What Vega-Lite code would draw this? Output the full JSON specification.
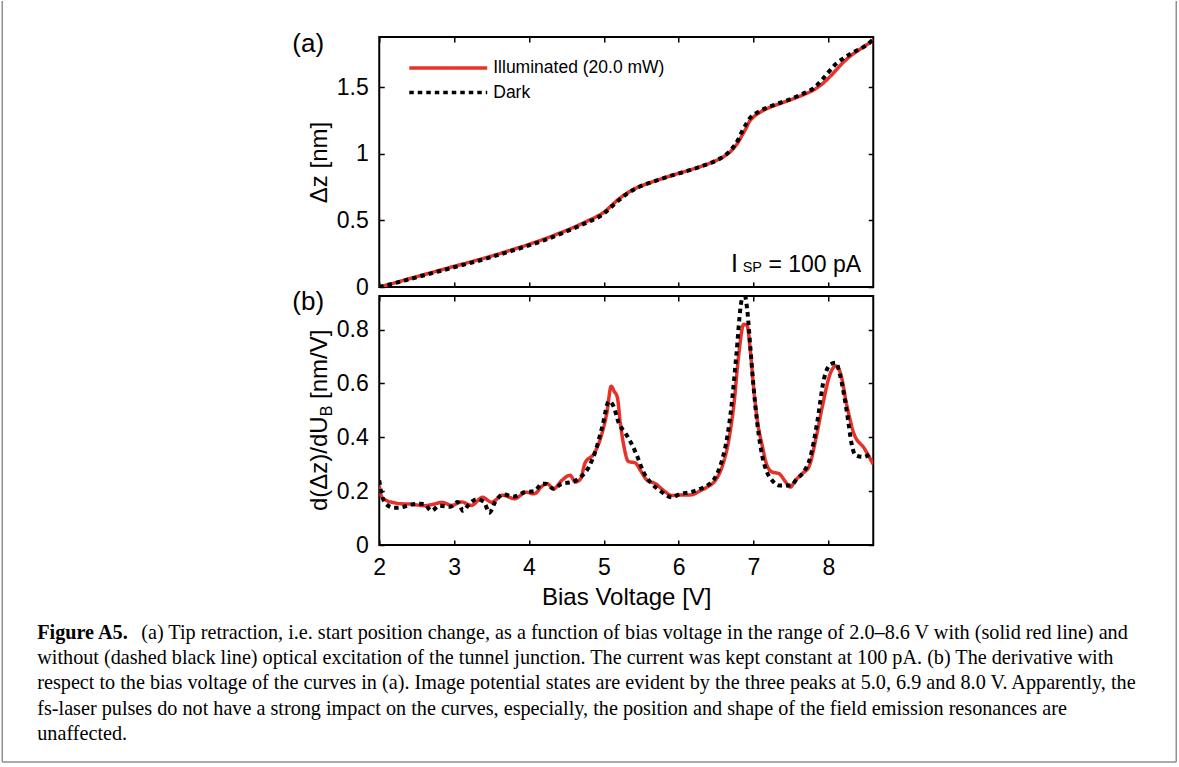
{
  "$schema": "https://vega.github.io/schema/vega-lite/v6.json",
  "padding": {"left": 1.25, "top": 0, "right": 1, "bottom": 1},
  "background": "white",
  "config": {
    "font": "Liberation Sans",
    "view": {"stroke": "black", "strokeWidth": 2},
    "axis": {
      "domain": false, "grid": false, "ticks": true, "tickSize": -5, "tickWidth": 1.5, "tickColor": "black",
      "labelFont": "Liberation Sans", "labelFontSize": 23, "labelColor": "black", "labelPadding": 16,
      "titleFont": "Liberation Sans", "titleFontSize": 24, "titleFontWeight": "normal", "titleColor": "black"
    },
    "legend": {
      "symbolType": "M-5,0H5", "symbolSize": 243, "symbolStrokeWidth": 3.5,
      "labelOffset": 35, "labelFontSize": 17.5, "labelFont": "Liberation Sans", "labelColor": "black", "labelLimit": 0,
      "rowPadding": 5.5, "padding": 0
    }
  },
  "datasets": {
    "za": [
      {"voltage": 2.0, "dz": 0.0, "series": "Illuminated (20.0 mW)"},
      {"voltage": 2.2, "dz": 0.03, "series": "Illuminated (20.0 mW)"},
      {"voltage": 2.4, "dz": 0.062, "series": "Illuminated (20.0 mW)"},
      {"voltage": 2.6, "dz": 0.093, "series": "Illuminated (20.0 mW)"},
      {"voltage": 2.8, "dz": 0.124, "series": "Illuminated (20.0 mW)"},
      {"voltage": 3.0, "dz": 0.155, "series": "Illuminated (20.0 mW)"},
      {"voltage": 3.2, "dz": 0.185, "series": "Illuminated (20.0 mW)"},
      {"voltage": 3.4, "dz": 0.216, "series": "Illuminated (20.0 mW)"},
      {"voltage": 3.6, "dz": 0.249, "series": "Illuminated (20.0 mW)"},
      {"voltage": 3.8, "dz": 0.284, "series": "Illuminated (20.0 mW)"},
      {"voltage": 4.0, "dz": 0.32, "series": "Illuminated (20.0 mW)"},
      {"voltage": 4.2, "dz": 0.359, "series": "Illuminated (20.0 mW)"},
      {"voltage": 4.4, "dz": 0.402, "series": "Illuminated (20.0 mW)"},
      {"voltage": 4.6, "dz": 0.448, "series": "Illuminated (20.0 mW)"},
      {"voltage": 4.8, "dz": 0.5, "series": "Illuminated (20.0 mW)"},
      {"voltage": 4.9, "dz": 0.527, "series": "Illuminated (20.0 mW)"},
      {"voltage": 5.0, "dz": 0.56, "series": "Illuminated (20.0 mW)"},
      {"voltage": 5.1, "dz": 0.61, "series": "Illuminated (20.0 mW)"},
      {"voltage": 5.2, "dz": 0.66, "series": "Illuminated (20.0 mW)"},
      {"voltage": 5.3, "dz": 0.7, "series": "Illuminated (20.0 mW)"},
      {"voltage": 5.4, "dz": 0.733, "series": "Illuminated (20.0 mW)"},
      {"voltage": 5.5, "dz": 0.758, "series": "Illuminated (20.0 mW)"},
      {"voltage": 5.6, "dz": 0.779, "series": "Illuminated (20.0 mW)"},
      {"voltage": 5.7, "dz": 0.798, "series": "Illuminated (20.0 mW)"},
      {"voltage": 5.9, "dz": 0.835, "series": "Illuminated (20.0 mW)"},
      {"voltage": 6.1, "dz": 0.869, "series": "Illuminated (20.0 mW)"},
      {"voltage": 6.3, "dz": 0.905, "series": "Illuminated (20.0 mW)"},
      {"voltage": 6.5, "dz": 0.948, "series": "Illuminated (20.0 mW)"},
      {"voltage": 6.6, "dz": 0.977, "series": "Illuminated (20.0 mW)"},
      {"voltage": 6.7, "dz": 1.02, "series": "Illuminated (20.0 mW)"},
      {"voltage": 6.8, "dz": 1.09, "series": "Illuminated (20.0 mW)"},
      {"voltage": 6.85, "dz": 1.14, "series": "Illuminated (20.0 mW)"},
      {"voltage": 6.9, "dz": 1.19, "series": "Illuminated (20.0 mW)"},
      {"voltage": 6.95, "dz": 1.245, "series": "Illuminated (20.0 mW)"},
      {"voltage": 7.0, "dz": 1.275, "series": "Illuminated (20.0 mW)"},
      {"voltage": 7.1, "dz": 1.315, "series": "Illuminated (20.0 mW)"},
      {"voltage": 7.2, "dz": 1.343, "series": "Illuminated (20.0 mW)"},
      {"voltage": 7.3, "dz": 1.365, "series": "Illuminated (20.0 mW)"},
      {"voltage": 7.4, "dz": 1.385, "series": "Illuminated (20.0 mW)"},
      {"voltage": 7.5, "dz": 1.405, "series": "Illuminated (20.0 mW)"},
      {"voltage": 7.6, "dz": 1.427, "series": "Illuminated (20.0 mW)"},
      {"voltage": 7.7, "dz": 1.45, "series": "Illuminated (20.0 mW)"},
      {"voltage": 7.8, "dz": 1.477, "series": "Illuminated (20.0 mW)"},
      {"voltage": 7.9, "dz": 1.515, "series": "Illuminated (20.0 mW)"},
      {"voltage": 8.0, "dz": 1.565, "series": "Illuminated (20.0 mW)"},
      {"voltage": 8.1, "dz": 1.625, "series": "Illuminated (20.0 mW)"},
      {"voltage": 8.2, "dz": 1.685, "series": "Illuminated (20.0 mW)"},
      {"voltage": 8.3, "dz": 1.735, "series": "Illuminated (20.0 mW)"},
      {"voltage": 8.4, "dz": 1.775, "series": "Illuminated (20.0 mW)"},
      {"voltage": 8.5, "dz": 1.812, "series": "Illuminated (20.0 mW)"},
      {"voltage": 8.6, "dz": 1.852, "series": "Illuminated (20.0 mW)"},
      {"voltage": 2.0, "dz": 0.0, "series": "Dark"},
      {"voltage": 2.2, "dz": 0.028, "series": "Dark"},
      {"voltage": 2.4, "dz": 0.058, "series": "Dark"},
      {"voltage": 2.6, "dz": 0.088, "series": "Dark"},
      {"voltage": 2.8, "dz": 0.118, "series": "Dark"},
      {"voltage": 3.0, "dz": 0.148, "series": "Dark"},
      {"voltage": 3.2, "dz": 0.178, "series": "Dark"},
      {"voltage": 3.4, "dz": 0.208, "series": "Dark"},
      {"voltage": 3.6, "dz": 0.242, "series": "Dark"},
      {"voltage": 3.8, "dz": 0.276, "series": "Dark"},
      {"voltage": 4.0, "dz": 0.312, "series": "Dark"},
      {"voltage": 4.2, "dz": 0.35, "series": "Dark"},
      {"voltage": 4.4, "dz": 0.393, "series": "Dark"},
      {"voltage": 4.6, "dz": 0.44, "series": "Dark"},
      {"voltage": 4.8, "dz": 0.49, "series": "Dark"},
      {"voltage": 4.9, "dz": 0.515, "series": "Dark"},
      {"voltage": 5.0, "dz": 0.55, "series": "Dark"},
      {"voltage": 5.1, "dz": 0.6, "series": "Dark"},
      {"voltage": 5.2, "dz": 0.65, "series": "Dark"},
      {"voltage": 5.3, "dz": 0.695, "series": "Dark"},
      {"voltage": 5.4, "dz": 0.73, "series": "Dark"},
      {"voltage": 5.5, "dz": 0.758, "series": "Dark"},
      {"voltage": 5.6, "dz": 0.779, "series": "Dark"},
      {"voltage": 5.7, "dz": 0.798, "series": "Dark"},
      {"voltage": 5.9, "dz": 0.835, "series": "Dark"},
      {"voltage": 6.1, "dz": 0.868, "series": "Dark"},
      {"voltage": 6.3, "dz": 0.904, "series": "Dark"},
      {"voltage": 6.5, "dz": 0.948, "series": "Dark"},
      {"voltage": 6.6, "dz": 0.98, "series": "Dark"},
      {"voltage": 6.7, "dz": 1.03, "series": "Dark"},
      {"voltage": 6.8, "dz": 1.11, "series": "Dark"},
      {"voltage": 6.85, "dz": 1.17, "series": "Dark"},
      {"voltage": 6.9, "dz": 1.22, "series": "Dark"},
      {"voltage": 6.95, "dz": 1.265, "series": "Dark"},
      {"voltage": 7.0, "dz": 1.29, "series": "Dark"},
      {"voltage": 7.1, "dz": 1.325, "series": "Dark"},
      {"voltage": 7.2, "dz": 1.35, "series": "Dark"},
      {"voltage": 7.3, "dz": 1.37, "series": "Dark"},
      {"voltage": 7.4, "dz": 1.39, "series": "Dark"},
      {"voltage": 7.5, "dz": 1.41, "series": "Dark"},
      {"voltage": 7.6, "dz": 1.435, "series": "Dark"},
      {"voltage": 7.7, "dz": 1.46, "series": "Dark"},
      {"voltage": 7.8, "dz": 1.49, "series": "Dark"},
      {"voltage": 7.9, "dz": 1.545, "series": "Dark"},
      {"voltage": 8.0, "dz": 1.61, "series": "Dark"},
      {"voltage": 8.1, "dz": 1.672, "series": "Dark"},
      {"voltage": 8.2, "dz": 1.715, "series": "Dark"},
      {"voltage": 8.3, "dz": 1.75, "series": "Dark"},
      {"voltage": 8.4, "dz": 1.78, "series": "Dark"},
      {"voltage": 8.5, "dz": 1.81, "series": "Dark"},
      {"voltage": 8.6, "dz": 1.857, "series": "Dark"}
    ],
    "zb": [
      {"voltage": 2.0, "deriv": 0.22, "series": "Illuminated (20.0 mW)"},
      {"voltage": 2.03, "deriv": 0.18, "series": "Illuminated (20.0 mW)"},
      {"voltage": 2.1, "deriv": 0.165, "series": "Illuminated (20.0 mW)"},
      {"voltage": 2.2, "deriv": 0.157, "series": "Illuminated (20.0 mW)"},
      {"voltage": 2.3, "deriv": 0.153, "series": "Illuminated (20.0 mW)"},
      {"voltage": 2.4, "deriv": 0.152, "series": "Illuminated (20.0 mW)"},
      {"voltage": 2.5, "deriv": 0.149, "series": "Illuminated (20.0 mW)"},
      {"voltage": 2.6, "deriv": 0.146, "series": "Illuminated (20.0 mW)"},
      {"voltage": 2.7, "deriv": 0.15, "series": "Illuminated (20.0 mW)"},
      {"voltage": 2.84, "deriv": 0.158, "series": "Illuminated (20.0 mW)"},
      {"voltage": 2.97, "deriv": 0.147, "series": "Illuminated (20.0 mW)"},
      {"voltage": 3.1, "deriv": 0.16, "series": "Illuminated (20.0 mW)"},
      {"voltage": 3.23, "deriv": 0.147, "series": "Illuminated (20.0 mW)"},
      {"voltage": 3.38, "deriv": 0.177, "series": "Illuminated (20.0 mW)"},
      {"voltage": 3.5, "deriv": 0.159, "series": "Illuminated (20.0 mW)"},
      {"voltage": 3.65, "deriv": 0.185, "series": "Illuminated (20.0 mW)"},
      {"voltage": 3.81, "deriv": 0.172, "series": "Illuminated (20.0 mW)"},
      {"voltage": 3.96, "deriv": 0.196, "series": "Illuminated (20.0 mW)"},
      {"voltage": 4.07, "deriv": 0.19, "series": "Illuminated (20.0 mW)"},
      {"voltage": 4.18, "deriv": 0.22, "series": "Illuminated (20.0 mW)"},
      {"voltage": 4.24, "deriv": 0.228, "series": "Illuminated (20.0 mW)"},
      {"voltage": 4.33, "deriv": 0.209, "series": "Illuminated (20.0 mW)"},
      {"voltage": 4.44, "deriv": 0.24, "series": "Illuminated (20.0 mW)"},
      {"voltage": 4.55, "deriv": 0.259, "series": "Illuminated (20.0 mW)"},
      {"voltage": 4.62, "deriv": 0.234, "series": "Illuminated (20.0 mW)"},
      {"voltage": 4.69, "deriv": 0.246, "series": "Illuminated (20.0 mW)"},
      {"voltage": 4.75, "deriv": 0.305, "series": "Illuminated (20.0 mW)"},
      {"voltage": 4.87, "deriv": 0.34, "series": "Illuminated (20.0 mW)"},
      {"voltage": 4.96, "deriv": 0.4, "series": "Illuminated (20.0 mW)"},
      {"voltage": 5.04, "deriv": 0.49, "series": "Illuminated (20.0 mW)"},
      {"voltage": 5.1, "deriv": 0.59, "series": "Illuminated (20.0 mW)"},
      {"voltage": 5.14, "deriv": 0.57, "series": "Illuminated (20.0 mW)"},
      {"voltage": 5.18, "deriv": 0.55, "series": "Illuminated (20.0 mW)"},
      {"voltage": 5.22, "deriv": 0.455, "series": "Illuminated (20.0 mW)"},
      {"voltage": 5.27, "deriv": 0.365, "series": "Illuminated (20.0 mW)"},
      {"voltage": 5.33, "deriv": 0.31, "series": "Illuminated (20.0 mW)"},
      {"voltage": 5.42, "deriv": 0.305, "series": "Illuminated (20.0 mW)"},
      {"voltage": 5.49, "deriv": 0.277, "series": "Illuminated (20.0 mW)"},
      {"voltage": 5.58, "deriv": 0.24, "series": "Illuminated (20.0 mW)"},
      {"voltage": 5.69, "deriv": 0.228, "series": "Illuminated (20.0 mW)"},
      {"voltage": 5.8, "deriv": 0.202, "series": "Illuminated (20.0 mW)"},
      {"voltage": 5.91, "deriv": 0.184, "series": "Illuminated (20.0 mW)"},
      {"voltage": 6.02, "deriv": 0.186, "series": "Illuminated (20.0 mW)"},
      {"voltage": 6.16, "deriv": 0.186, "series": "Illuminated (20.0 mW)"},
      {"voltage": 6.29, "deriv": 0.202, "series": "Illuminated (20.0 mW)"},
      {"voltage": 6.38, "deriv": 0.215, "series": "Illuminated (20.0 mW)"},
      {"voltage": 6.49, "deriv": 0.24, "series": "Illuminated (20.0 mW)"},
      {"voltage": 6.58, "deriv": 0.29, "series": "Illuminated (20.0 mW)"},
      {"voltage": 6.67, "deriv": 0.39, "series": "Illuminated (20.0 mW)"},
      {"voltage": 6.74, "deriv": 0.527, "series": "Illuminated (20.0 mW)"},
      {"voltage": 6.8, "deriv": 0.7, "series": "Illuminated (20.0 mW)"},
      {"voltage": 6.87, "deriv": 0.82, "series": "Illuminated (20.0 mW)"},
      {"voltage": 6.915, "deriv": 0.815, "series": "Illuminated (20.0 mW)"},
      {"voltage": 6.96, "deriv": 0.715, "series": "Illuminated (20.0 mW)"},
      {"voltage": 7.0, "deriv": 0.59, "series": "Illuminated (20.0 mW)"},
      {"voltage": 7.05, "deriv": 0.465, "series": "Illuminated (20.0 mW)"},
      {"voltage": 7.12, "deriv": 0.365, "series": "Illuminated (20.0 mW)"},
      {"voltage": 7.18, "deriv": 0.296, "series": "Illuminated (20.0 mW)"},
      {"voltage": 7.25, "deriv": 0.271, "series": "Illuminated (20.0 mW)"},
      {"voltage": 7.34, "deriv": 0.265, "series": "Illuminated (20.0 mW)"},
      {"voltage": 7.43, "deriv": 0.234, "series": "Illuminated (20.0 mW)"},
      {"voltage": 7.49, "deriv": 0.215, "series": "Illuminated (20.0 mW)"},
      {"voltage": 7.56, "deriv": 0.24, "series": "Illuminated (20.0 mW)"},
      {"voltage": 7.65, "deriv": 0.265, "series": "Illuminated (20.0 mW)"},
      {"voltage": 7.74, "deriv": 0.29, "series": "Illuminated (20.0 mW)"},
      {"voltage": 7.83, "deriv": 0.39, "series": "Illuminated (20.0 mW)"},
      {"voltage": 7.92, "deriv": 0.515, "series": "Illuminated (20.0 mW)"},
      {"voltage": 8.03, "deriv": 0.64, "series": "Illuminated (20.0 mW)"},
      {"voltage": 8.1, "deriv": 0.665, "series": "Illuminated (20.0 mW)"},
      {"voltage": 8.16, "deriv": 0.64, "series": "Illuminated (20.0 mW)"},
      {"voltage": 8.25, "deriv": 0.515, "series": "Illuminated (20.0 mW)"},
      {"voltage": 8.34, "deriv": 0.415, "series": "Illuminated (20.0 mW)"},
      {"voltage": 8.48, "deriv": 0.359, "series": "Illuminated (20.0 mW)"},
      {"voltage": 8.6, "deriv": 0.3, "series": "Illuminated (20.0 mW)"},
      {"voltage": 2.0, "deriv": 0.24, "series": "Dark"},
      {"voltage": 2.03, "deriv": 0.19, "series": "Dark"},
      {"voltage": 2.1, "deriv": 0.15, "series": "Dark"},
      {"voltage": 2.2, "deriv": 0.138, "series": "Dark"},
      {"voltage": 2.3, "deriv": 0.14, "series": "Dark"},
      {"voltage": 2.4, "deriv": 0.148, "series": "Dark"},
      {"voltage": 2.5, "deriv": 0.153, "series": "Dark"},
      {"voltage": 2.6, "deriv": 0.152, "series": "Dark"},
      {"voltage": 2.7, "deriv": 0.127, "series": "Dark"},
      {"voltage": 2.8, "deriv": 0.146, "series": "Dark"},
      {"voltage": 2.95, "deriv": 0.142, "series": "Dark"},
      {"voltage": 3.05, "deriv": 0.16, "series": "Dark"},
      {"voltage": 3.12, "deriv": 0.127, "series": "Dark"},
      {"voltage": 3.2, "deriv": 0.152, "series": "Dark"},
      {"voltage": 3.3, "deriv": 0.17, "series": "Dark"},
      {"voltage": 3.4, "deriv": 0.16, "series": "Dark"},
      {"voltage": 3.47, "deriv": 0.12, "series": "Dark"},
      {"voltage": 3.55, "deriv": 0.16, "series": "Dark"},
      {"voltage": 3.65, "deriv": 0.188, "series": "Dark"},
      {"voltage": 3.8, "deriv": 0.18, "series": "Dark"},
      {"voltage": 3.94, "deriv": 0.196, "series": "Dark"},
      {"voltage": 4.07, "deriv": 0.2, "series": "Dark"},
      {"voltage": 4.18, "deriv": 0.228, "series": "Dark"},
      {"voltage": 4.22, "deriv": 0.228, "series": "Dark"},
      {"voltage": 4.33, "deriv": 0.209, "series": "Dark"},
      {"voltage": 4.44, "deriv": 0.228, "series": "Dark"},
      {"voltage": 4.58, "deriv": 0.234, "series": "Dark"},
      {"voltage": 4.69, "deriv": 0.252, "series": "Dark"},
      {"voltage": 4.8, "deriv": 0.29, "series": "Dark"},
      {"voltage": 4.89, "deriv": 0.35, "series": "Dark"},
      {"voltage": 4.98, "deriv": 0.44, "series": "Dark"},
      {"voltage": 5.07, "deriv": 0.534, "series": "Dark"},
      {"voltage": 5.13, "deriv": 0.515, "series": "Dark"},
      {"voltage": 5.2, "deriv": 0.453, "series": "Dark"},
      {"voltage": 5.29, "deriv": 0.415, "series": "Dark"},
      {"voltage": 5.38, "deriv": 0.371, "series": "Dark"},
      {"voltage": 5.44, "deriv": 0.334, "series": "Dark"},
      {"voltage": 5.53, "deriv": 0.271, "series": "Dark"},
      {"voltage": 5.62, "deriv": 0.234, "series": "Dark"},
      {"voltage": 5.75, "deriv": 0.202, "series": "Dark"},
      {"voltage": 5.91, "deriv": 0.177, "series": "Dark"},
      {"voltage": 6.02, "deriv": 0.19, "series": "Dark"},
      {"voltage": 6.16, "deriv": 0.196, "series": "Dark"},
      {"voltage": 6.29, "deriv": 0.209, "series": "Dark"},
      {"voltage": 6.38, "deriv": 0.22, "series": "Dark"},
      {"voltage": 6.49, "deriv": 0.252, "series": "Dark"},
      {"voltage": 6.58, "deriv": 0.315, "series": "Dark"},
      {"voltage": 6.65, "deriv": 0.402, "series": "Dark"},
      {"voltage": 6.71, "deriv": 0.527, "series": "Dark"},
      {"voltage": 6.77, "deriv": 0.702, "series": "Dark"},
      {"voltage": 6.83, "deriv": 0.89, "series": "Dark"},
      {"voltage": 6.87, "deriv": 0.94, "series": "Dark"},
      {"voltage": 6.915, "deriv": 0.877, "series": "Dark"},
      {"voltage": 6.96, "deriv": 0.727, "series": "Dark"},
      {"voltage": 7.0, "deriv": 0.59, "series": "Dark"},
      {"voltage": 7.05, "deriv": 0.453, "series": "Dark"},
      {"voltage": 7.12, "deriv": 0.327, "series": "Dark"},
      {"voltage": 7.18, "deriv": 0.271, "series": "Dark"},
      {"voltage": 7.25, "deriv": 0.24, "series": "Dark"},
      {"voltage": 7.34, "deriv": 0.221, "series": "Dark"},
      {"voltage": 7.43, "deriv": 0.221, "series": "Dark"},
      {"voltage": 7.5, "deriv": 0.221, "series": "Dark"},
      {"voltage": 7.58, "deriv": 0.246, "series": "Dark"},
      {"voltage": 7.67, "deriv": 0.271, "series": "Dark"},
      {"voltage": 7.76, "deriv": 0.327, "series": "Dark"},
      {"voltage": 7.85, "deriv": 0.453, "series": "Dark"},
      {"voltage": 7.94, "deriv": 0.615, "series": "Dark"},
      {"voltage": 8.03, "deriv": 0.671, "series": "Dark"},
      {"voltage": 8.1, "deriv": 0.677, "series": "Dark"},
      {"voltage": 8.16, "deriv": 0.627, "series": "Dark"},
      {"voltage": 8.25, "deriv": 0.49, "series": "Dark"},
      {"voltage": 8.31, "deriv": 0.377, "series": "Dark"},
      {"voltage": 8.36, "deriv": 0.334, "series": "Dark"},
      {"voltage": 8.47, "deriv": 0.327, "series": "Dark"},
      {"voltage": 8.56, "deriv": 0.34, "series": "Dark"}
    ],
    "cap": [
      {"line": 1, "part": "head", "text": "Figure A5."},
      {"line": 1, "part": "body", "text": "(a) Tip retraction, i.e. start position change, as a function of bias voltage in the range of 2.0–8.6 V with (solid red line) and"},
      {"line": 2, "part": "body", "text": "without (dashed black line) optical excitation of the tunnel junction. The current was kept constant at 100 pA. (b) The derivative with"},
      {"line": 3, "part": "body", "text": "respect to the bias voltage of the curves in (a). Image potential states are evident by the three peaks at 5.0, 6.9 and 8.0 V. Apparently, the"},
      {"line": 4, "part": "body", "text": "fs-laser pulses do not have a strong impact on the curves, especially, the position and shape of the field emission resonances are"},
      {"line": 5, "part": "body", "text": "unaffected."}
    ]
  },
  "columns": 2,
  "spacing": {"row": 9, "column": 0},
  "bounds": "flush",
  "align": "each",
  "resolve": {"scale": {"color": "independent", "strokeDash": "independent"}},
  "concat": [
    {
      "width": 342, "height": 10,
      "data": {"values": [{}]},
      "mark": {"type": "text", "text": ""},
      "view": {"stroke": null}
    },
    {
      "width": 494, "height": 250,
      "data": {"name": "za"},
      "resolve": {"axis": {"x": "independent", "y": "independent"}},
      "layer": [
        {
          "transform": [{"filter": "datum.series == 'Illuminated (20.0 mW)'"}],
          "mark": {"type": "line", "strokeWidth": 3.5, "interpolate": "monotone", "clip": true},
          "encoding": {
            "x": {"field": "voltage", "type": "quantitative", "scale": {"domain": [2, 8.6], "nice": false, "zero": false},
                  "axis": {"orient": "bottom", "values": [2, 3, 4, 5, 6, 7, 8], "labels": false, "title": null}},
            "y": {"field": "dz", "type": "quantitative", "scale": {"domain": [0, 1.875], "nice": false},
                  "axis": {"orient": "left", "values": [0, 0.5, 1, 1.5], "format": "~g", "title": "Δz [nm]", "titlePadding": 5}},
            "color": {"field": "series", "type": "nominal",
                      "scale": {"domain": ["Illuminated (20.0 mW)", "Dark"], "range": ["#e63228", "#000000"]},
                      "legend": {"title": null, "orient": "none", "legendX": 59, "legendY": 21}},
            "strokeDash": {"field": "series", "type": "nominal",
                      "scale": {"domain": ["Illuminated (20.0 mW)", "Dark"], "range": [[1, 0], [4.5, 4]]},
                      "legend": {"title": null, "orient": "none", "legendX": 59, "legendY": 21}}
          }
        },
        {
          "transform": [{"filter": "datum.series == 'Dark'"}],
          "mark": {"type": "line", "strokeWidth": 4, "interpolate": "monotone", "clip": true},
          "encoding": {
            "x": {"field": "voltage", "type": "quantitative",
                  "axis": {"orient": "top", "values": [2, 3, 4, 5, 6, 7, 8], "labels": false, "title": null}},
            "y": {"field": "dz", "type": "quantitative",
                  "axis": {"orient": "right", "values": [0, 0.5, 1, 1.5], "labels": false, "title": null}},
            "color": {"field": "series", "type": "nominal"},
            "strokeDash": {"field": "series", "type": "nominal"}
          }
        },
        {
          "data": {"values": [{}]},
          "mark": {"type": "text", "text": "(a)", "fontSize": 26, "align": "center", "baseline": "middle", "clip": false, "color": "black"},
          "encoding": {
            "x": {"datum": 1.051, "type": "quantitative", "axis": null},
            "y": {"datum": 1.823, "type": "quantitative", "axis": null}
          }
        },
        {
          "data": {"values": [{}]},
          "mark": {"type": "text", "text": "I", "fontSize": 25, "align": "left", "baseline": "alphabetic", "color": "black"},
          "encoding": {
            "x": {"datum": 6.7, "type": "quantitative", "axis": null},
            "y": {"datum": 0.1125, "type": "quantitative", "axis": null}
          }
        },
        {
          "data": {"values": [{}]},
          "mark": {"type": "text", "text": "SP", "fontSize": 14.5, "align": "left", "baseline": "alphabetic", "color": "black"},
          "encoding": {
            "x": {"datum": 6.855, "type": "quantitative", "axis": null},
            "y": {"datum": 0.1125, "type": "quantitative", "axis": null}
          }
        },
        {
          "data": {"values": [{}]},
          "mark": {"type": "text", "text": "= 100 pA", "fontSize": 23, "align": "left", "baseline": "alphabetic", "color": "black"},
          "encoding": {
            "x": {"datum": 7.2, "type": "quantitative", "axis": null},
            "y": {"datum": 0.1125, "type": "quantitative", "axis": null}
          }
        }
      ]
    },
    {
      "width": 342, "height": 10,
      "data": {"values": [{}]},
      "mark": {"type": "text", "text": ""},
      "view": {"stroke": null}
    },
    {
      "width": 494, "height": 249,
      "data": {"name": "zb"},
      "resolve": {"axis": {"x": "independent", "y": "independent"}},
      "layer": [
        {
          "transform": [{"filter": "datum.series == 'Illuminated (20.0 mW)'"}],
          "mark": {"type": "line", "strokeWidth": 3.5, "interpolate": "monotone", "clip": true},
          "encoding": {
            "x": {"field": "voltage", "type": "quantitative", "scale": {"domain": [2, 8.6], "nice": false, "zero": false},
                  "axis": {"orient": "bottom", "values": [2, 3, 4, 5, 6, 7, 8], "format": "~g", "labelFlush": false, "title": "Bias Voltage [V]", "titlePadding": 6}},
            "y": {"field": "deriv", "type": "quantitative", "scale": {"domain": [0, 0.925], "nice": false},
                  "axis": {"orient": "left", "values": [0, 0.2, 0.4, 0.6, 0.8], "format": "~g", "title": null}},
            "color": {"field": "series", "type": "nominal",
                      "scale": {"domain": ["Illuminated (20.0 mW)", "Dark"], "range": ["#e63228", "#000000"]}, "legend": null},
            "strokeDash": {"field": "series", "type": "nominal",
                      "scale": {"domain": ["Illuminated (20.0 mW)", "Dark"], "range": [[1, 0], [4.5, 4]]}, "legend": null}
          }
        },
        {
          "transform": [{"filter": "datum.series == 'Dark'"}],
          "mark": {"type": "line", "strokeWidth": 4, "interpolate": "monotone", "clip": true},
          "encoding": {
            "x": {"field": "voltage", "type": "quantitative",
                  "axis": {"orient": "top", "values": [2, 3, 4, 5, 6, 7, 8], "labels": false, "title": null}},
            "y": {"field": "deriv", "type": "quantitative",
                  "axis": {"orient": "right", "values": [0, 0.2, 0.4, 0.6, 0.8], "labels": false, "title": null}},
            "color": {"field": "series", "type": "nominal", "legend": null},
            "strokeDash": {"field": "series", "type": "nominal", "legend": null}
          }
        },
        {
          "data": {"values": [{}]},
          "mark": {"type": "text", "text": "(b)", "fontSize": 26, "align": "center", "baseline": "middle", "clip": false, "color": "black"},
          "encoding": {
            "x": {"datum": 1.051, "type": "quantitative", "axis": null},
            "y": {"datum": 0.903, "type": "quantitative", "axis": null}
          }
        },
        {
          "data": {"values": [{}]},
          "mark": {"type": "text", "text": "d(Δz)/dU", "fontSize": 24, "angle": 270, "align": "right", "baseline": "alphabetic", "clip": false, "color": "black"},
          "encoding": {
            "x": {"datum": 1.305, "type": "quantitative", "axis": null},
            "y": {"datum": 0.478, "type": "quantitative", "axis": null}
          }
        },
        {
          "data": {"values": [{}]},
          "mark": {"type": "text", "text": "B", "fontSize": 16, "angle": 270, "align": "left", "baseline": "alphabetic", "dy": 5, "clip": false, "color": "black"},
          "encoding": {
            "x": {"datum": 1.305, "type": "quantitative", "axis": null},
            "y": {"datum": 0.478, "type": "quantitative", "axis": null}
          }
        },
        {
          "data": {"values": [{}]},
          "mark": {"type": "text", "text": "[nm/V]", "fontSize": 24, "angle": 270, "align": "left", "baseline": "alphabetic", "dx": 17.4, "clip": false, "color": "black"},
          "encoding": {
            "x": {"datum": 1.305, "type": "quantitative", "axis": null},
            "y": {"datum": 0.478, "type": "quantitative", "axis": null}
          }
        }
      ]
    },
    {
      "width": 342, "height": 200,
      "view": {"stroke": null},
      "layer": [
        {
          "data": {"values": [{}]},
          "mark": {"type": "rule", "color": "#8f8f8f", "strokeWidth": 1.5},
          "encoding": {
            "x": {"datum": -0.10234, "type": "quantitative", "scale": {"domain": [0, 1]}, "axis": null},
            "y": {"datum": -24.27, "type": "quantitative", "scale": {"domain": [-2.366, 5.555], "reverse": true, "nice": false, "zero": false}, "axis": null},
            "y2": {"datum": 5.872}
          }
        },
        {
          "data": {"values": [{}]},
          "mark": {"type": "rule", "color": "#8f8f8f", "strokeWidth": 1.5},
          "encoding": {
            "x": {"datum": 3.33041, "type": "quantitative", "axis": null},
            "y": {"datum": -24.27, "type": "quantitative", "axis": null},
            "y2": {"datum": 5.872}
          }
        },
        {
          "data": {"values": [{}]},
          "mark": {"type": "rule", "color": "#8f8f8f", "strokeWidth": 1.5},
          "encoding": {
            "x": {"datum": -0.10234, "type": "quantitative", "axis": null},
            "x2": {"datum": 3.33041},
            "y": {"datum": 5.872, "type": "quantitative", "axis": null}
          }
        },
        {
          "data": {"name": "cap"},
          "transform": [{"filter": "datum.part == 'head'"}],
          "mark": {"type": "text", "align": "left", "baseline": "alphabetic", "font": "Liberation Serif", "fontSize": 20.2, "fontWeight": "bold", "color": "black"},
          "encoding": {
            "x": {"datum": 0, "type": "quantitative", "axis": null},
            "y": {"field": "line", "type": "quantitative", "axis": null},
            "text": {"field": "text"}
          }
        },
        {
          "data": {"name": "cap"},
          "transform": [{"filter": "datum.part == 'body' && datum.line == 1"}],
          "mark": {"type": "text", "align": "left", "baseline": "alphabetic", "font": "Liberation Serif", "fontSize": 20.2, "dx": 104, "color": "black"},
          "encoding": {
            "x": {"datum": 0, "type": "quantitative", "axis": null},
            "y": {"field": "line", "type": "quantitative", "axis": null},
            "text": {"field": "text"}
          }
        },
        {
          "data": {"name": "cap"},
          "transform": [{"filter": "datum.line > 1"}],
          "mark": {"type": "text", "align": "left", "baseline": "alphabetic", "font": "Liberation Serif", "fontSize": 20.2, "color": "black"},
          "encoding": {
            "x": {"datum": 0, "type": "quantitative", "axis": null},
            "y": {"field": "line", "type": "quantitative", "axis": null},
            "text": {"field": "text"}
          }
        }
      ]
    }
  ]
}
